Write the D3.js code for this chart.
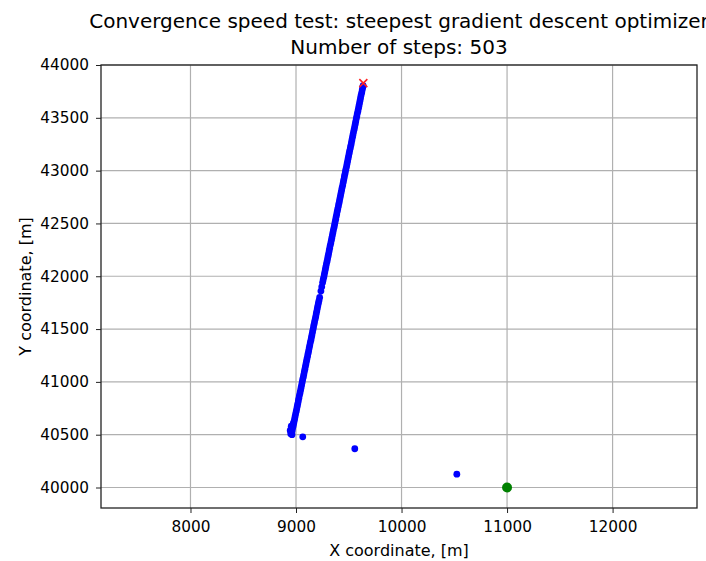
<!DOCTYPE html>
<html>
<head>
<meta charset="utf-8">
<script src="https://d3js.org/d3.v7.min.js"></script>
<style>
  body { margin: 0; background: #fff; }
  svg { font-family: "DejaVu Sans", sans-serif; }
</style>
</head>
<body>
<div id="chart"></div>
<script>
// descent steps, [x, y] in metres (upper path, bottom knot, last stray steps)
const stepX = [
  8960, 8965, 8970, 8976, 8981, 8986, 8991, 8996, 9002, 9007,
  9012, 9017, 9022, 9027, 9032, 9038, 9043, 9048, 9053, 9058,
  9063, 9069, 9074, 9079, 9084, 9089, 9094, 9099, 9104, 9110,
  9115, 9120, 9125, 9130, 9135, 9141, 9146, 9151, 9156, 9161,
  9166, 9171, 9176, 9182, 9187, 9192, 9197, 9202, 9207, 9212,
  9218, 9224, 9236, 9244, 9252, 9257, 9263, 9268, 9273, 9278,
  9283, 9288, 9294, 9299, 9304, 9309, 9314, 9319, 9324, 9330,
  9335, 9340, 9345, 9350, 9355, 9361, 9366, 9371, 9376, 9381,
  9386, 9391, 9396, 9402, 9407, 9412, 9417, 9422, 9427, 9432,
  9437, 9443, 9448, 9453, 9458, 9463, 9468, 9473, 9479, 9484,
  9489, 9494, 9499, 9504, 9509, 9515, 9520, 9525, 9530, 9535,
  9540, 9545, 9551, 9556, 9561, 9566, 9571, 9576, 9581, 9587,
  9592, 9597, 9602, 9607, 9612, 9617, 9623, 9628, 9633, 9636,
  8950, 8945, 8955, 8975, 8962,
  9064, 9557, 10524
];
const stepY = [
  40520, 40545, 40570, 40595, 40620, 40645, 40670, 40695, 40720, 40745,
  40770, 40795, 40820, 40845, 40870, 40895, 40920, 40945, 40970, 40995,
  41020, 41045, 41070, 41095, 41120, 41145, 41170, 41195, 41220, 41245,
  41270, 41295, 41320, 41345, 41370, 41395, 41420, 41445, 41470, 41495,
  41520, 41545, 41570, 41595, 41620, 41645, 41670, 41695, 41720, 41745,
  41770, 41800, 41860, 41900, 41940, 41965, 41990, 42015, 42040, 42065,
  42090, 42115, 42140, 42165, 42190, 42215, 42240, 42265, 42290, 42315,
  42340, 42365, 42390, 42415, 42440, 42465, 42490, 42515, 42540, 42565,
  42590, 42615, 42640, 42665, 42690, 42715, 42740, 42765, 42790, 42815,
  42840, 42865, 42890, 42915, 42940, 42965, 42990, 43015, 43040, 43065,
  43090, 43115, 43140, 43165, 43190, 43215, 43240, 43265, 43290, 43315,
  43340, 43365, 43390, 43415, 43440, 43465, 43490, 43515, 43540, 43565,
  43590, 43615, 43640, 43665, 43690, 43715, 43740, 43765, 43790, 43805,
  40510, 40540, 40580, 40610, 40500,
  40480, 40367, 40126
];
const startPoint = [9638, 43829];
const targetPoint = [11000, 40000];

const xTicks = [8000, 9000, 10000, 11000, 12000];
const yTicks = [40000, 40500, 41000, 41500, 42000, 42500, 43000, 43500, 44000];
const xLimits = [7152, 12800];
const yLimits = [39806, 44000];

const titleLines = ["Convergence speed test: steepest gradient descent optimizer", "Number of steps: 503"];

function drawChart() {
  const width = 706, height = 561;
  const margin = { top: 65, right: 9, bottom: 53, left: 101 };

  const svg = d3.select("#chart").append("svg")
    .attr("width", width)
    .attr("height", height);

  const x = d3.scaleLinear().domain(xLimits).range([margin.left, width - margin.right]);
  const y = d3.scaleLinear().domain(yLimits).range([height - margin.bottom, margin.top]);

  // grid
  svg.append("g").selectAll("line").data(xTicks).join("line")
    .attr("x1", d => x(d)).attr("x2", d => x(d))
    .attr("y1", margin.top).attr("y2", height - margin.bottom)
    .attr("stroke", "#b0b0b0").attr("stroke-width", 1.2);
  svg.append("g").selectAll("line").data(yTicks).join("line")
    .attr("x1", margin.left).attr("x2", width - margin.right)
    .attr("y1", d => y(d)).attr("y2", d => y(d))
    .attr("stroke", "#b0b0b0").attr("stroke-width", 1.2);

  // axes
  const xAxis = svg.append("g")
    .attr("transform", `translate(0,${height - margin.bottom})`)
    .call(d3.axisBottom(x).tickValues(xTicks).tickFormat(d3.format("d")).tickSize(5).tickPadding(8));
  const yAxis = svg.append("g")
    .attr("transform", `translate(${margin.left},0)`)
    .call(d3.axisLeft(y).tickValues(yTicks).tickFormat(d3.format("d")).tickSize(5).tickPadding(7));
  [xAxis, yAxis].forEach(g => {
    g.select(".domain").remove();
    g.selectAll("text").attr("font-size", 15.3).attr("fill", "#000")
      .attr("font-family", "DejaVu Sans, sans-serif");
    g.selectAll(".tick line").attr("stroke", "#222").attr("stroke-width", 1);
  });

  // points
  const steps = stepX.map((d, i) => ({ x: d, y: stepY[i] }));
  svg.append("g").selectAll("circle").data(steps).join("circle")
    .attr("cx", d => x(d.x))
    .attr("cy", d => y(d.y))
    .attr("r", 3.4)
    .attr("fill", "#0000ff");

  const sx = x(startPoint[0]), sy = y(startPoint[1]), s = 4;
  svg.append("path")
    .attr("d", `M${sx - s},${sy - s}L${sx + s},${sy + s}M${sx - s},${sy + s}L${sx + s},${sy - s}`)
    .attr("stroke", "#ff2020").attr("stroke-width", 1.6).attr("fill", "none");

  svg.append("circle")
    .attr("cx", x(targetPoint[0])).attr("cy", y(targetPoint[1]))
    .attr("r", 5).attr("fill", "#008000");

  // frame
  svg.append("rect")
    .attr("x", margin.left).attr("y", margin.top)
    .attr("width", width - margin.left - margin.right)
    .attr("height", height - margin.top - margin.bottom)
    .attr("fill", "none").attr("stroke", "#222").attr("stroke-width", 1.3);

  // title and labels
  const cx = (margin.left + width - margin.right) / 2;
  svg.append("g").selectAll("text").data(titleLines).join("text")
    .attr("x", cx).attr("y", (d, i) => 28 + i * 26)
    .attr("text-anchor", "middle").attr("font-size", 20)
    .text(d => d);

  svg.append("text")
    .attr("x", cx).attr("y", 556)
    .attr("text-anchor", "middle").attr("font-size", 16)
    .text("X coordinate, [m]");

  svg.append("text")
    .attr("transform", `translate(31,${(margin.top + height - margin.bottom) / 2}) rotate(-90)`)
    .attr("text-anchor", "middle").attr("font-size", 16)
    .text("Y coordinate, [m]");
}

document.addEventListener("DOMContentLoaded", drawChart);
</script>
</body>
</html>
